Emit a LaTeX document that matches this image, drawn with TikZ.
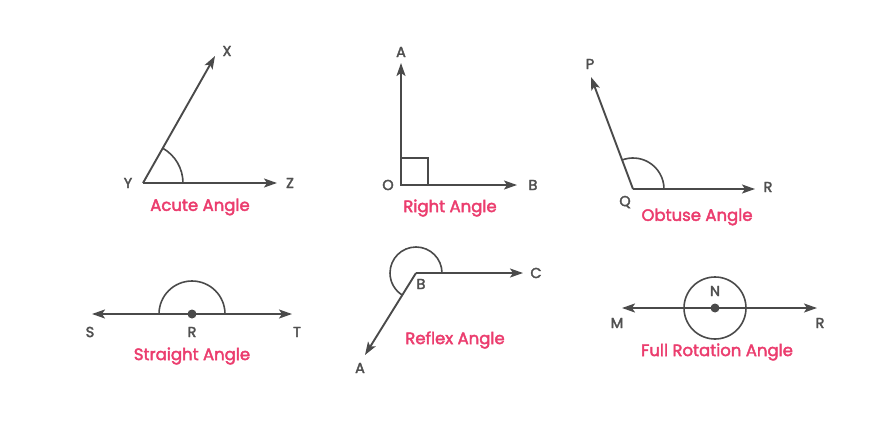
\documentclass[tikz,border=0pt]{standalone}
\usepackage{fontspec}
\setmainfont{Poppins}
\newfontfamily\labelfont{Poppins}[FakeBold=2.5]
\usetikzlibrary{arrows.meta,calc}
\definecolor{linegrey}{HTML}{4A4A4A}
\definecolor{textgrey}{HTML}{505050}
\definecolor{anglepink}{HTML}{EB3D6E}
\tikzset{
  line cap=round,
  line join=round,
  ray/.style={-{Stealth[length=13pt,width=9pt,inset=3pt]}, linegrey, line width=1.9pt},
  bothray/.style={{Stealth[length=13pt,width=9pt,inset=3pt]}-{Stealth[length=13pt,width=9pt,inset=3pt]}, linegrey, line width=1.9pt},
  anglemark/.style={linegrey, line width=1.6pt},
  letter/.style={text=textgrey, font=\labelfont\fontsize{14.5}{16}\selectfont, inner sep=0pt},
  title/.style={text=anglepink, font=\labelfont\fontsize{16.5}{19}\selectfont, inner sep=0pt},
  dot/.style={circle, fill=linegrey, inner sep=0pt, minimum size=9pt}
}
\begin{document}
\begin{tikzpicture}[x=1pt, y=1pt]
  \useasboundingbox (0,0) rectangle (880,440);

  % acute
  \coordinate (Y) at (143,257);
  \coordinate (X) at (215,384);
  \coordinate (Z) at (277,257);
  \draw[anglemark] ($(Y)+(40,0)$) arc[start angle=0, end angle=60.4, radius=40];
  \draw[ray] (Y) -- (X);
  \draw[ray] (Y) -- (Z);
  \node[letter] (lX) at (227,389) {X};
  \node[letter] (lY) at (128,257) {Y};
  \node[letter] (lZ) at (290,257) {Z};
  \node[title] (acute) at (200,233) {Acute Angle};

  % right
  \coordinate (O) at (401,255);
  \coordinate (A1) at (401,377);
  \coordinate (B1) at (517,255);
  \draw[anglemark] (O) rectangle ++(27,27);
  \draw[ray] (O) -- (A1);
  \draw[ray] (O) -- (B1);
  \node[letter] (lA1) at (401,388) {A};
  \node[letter] (lO) at (388,255) {O};
  \node[letter] (lB1) at (533,255) {B};
  \node[title] (right) at (450,232) {Right Angle};

  % obtuse
  \coordinate (Q) at (633,251);
  \coordinate (P) at (591,363);
  \coordinate (R1) at (755,251);
  \draw[anglemark] ($(Q)+(31,0)$) arc[start angle=0, end angle=110.6, radius=31];
  \draw[ray] (Q) -- (P);
  \draw[ray] (Q) -- (R1);
  \node[letter] (lP) at (590,376) {P};
  \node[letter] (lQ) at (625,238) {Q};
  \node[letter] (lR1) at (768,253) {R};
  \node[title] (obtuse) at (697,223) {Obtuse Angle};

  % straight
  \coordinate (R2) at (192,126);
  \coordinate (S) at (92,126);
  \coordinate (T) at (292,126);
  \draw[anglemark] ($(R2)+(33,0)$) arc[start angle=0, end angle=180, radius=33];
  \draw[bothray] (S) -- (T);
  \node[dot] (d2) at (R2) {};
  \node[letter] (lS) at (90,108) {S};
  \node[letter] (lR2) at (192,108) {R};
  \node[letter] (lT) at (297,108) {T};
  \node[title] (straight) at (192,84) {Straight Angle};

  % reflex
  \coordinate (B3) at (416,167);
  \coordinate (C3) at (523,167);
  \coordinate (A3) at (365,85);
  \draw[anglemark] ($(B3)+(26,0)$) arc[start angle=0, end angle=238, radius=26];
  \draw[ray] (B3) -- (C3);
  \draw[ray] (B3) -- (A3);
  \node[letter] (lB3) at (421,156) {B};
  \node[letter] (lC3) at (536,167) {C};
  \node[letter] (lA3) at (360,72) {A};
  \node[title] (reflex) at (455,100) {Reflex Angle};

  % full rotation
  \coordinate (N) at (715,132);
  \coordinate (M) at (622,132);
  \coordinate (R4) at (817,132);
  \draw[anglemark] (N) circle[radius=31];
  \draw[bothray] (M) -- (R4);
  \node[dot] (d4) at (N) {};
  \node[letter] (lN) at (715,149) {N};
  \node[letter] (lM) at (617,117) {M};
  \node[letter] (lR4) at (820,117) {R};
  \node[title] (full) at (717,88) {Full Rotation Angle};
\end{tikzpicture}
\end{document}
